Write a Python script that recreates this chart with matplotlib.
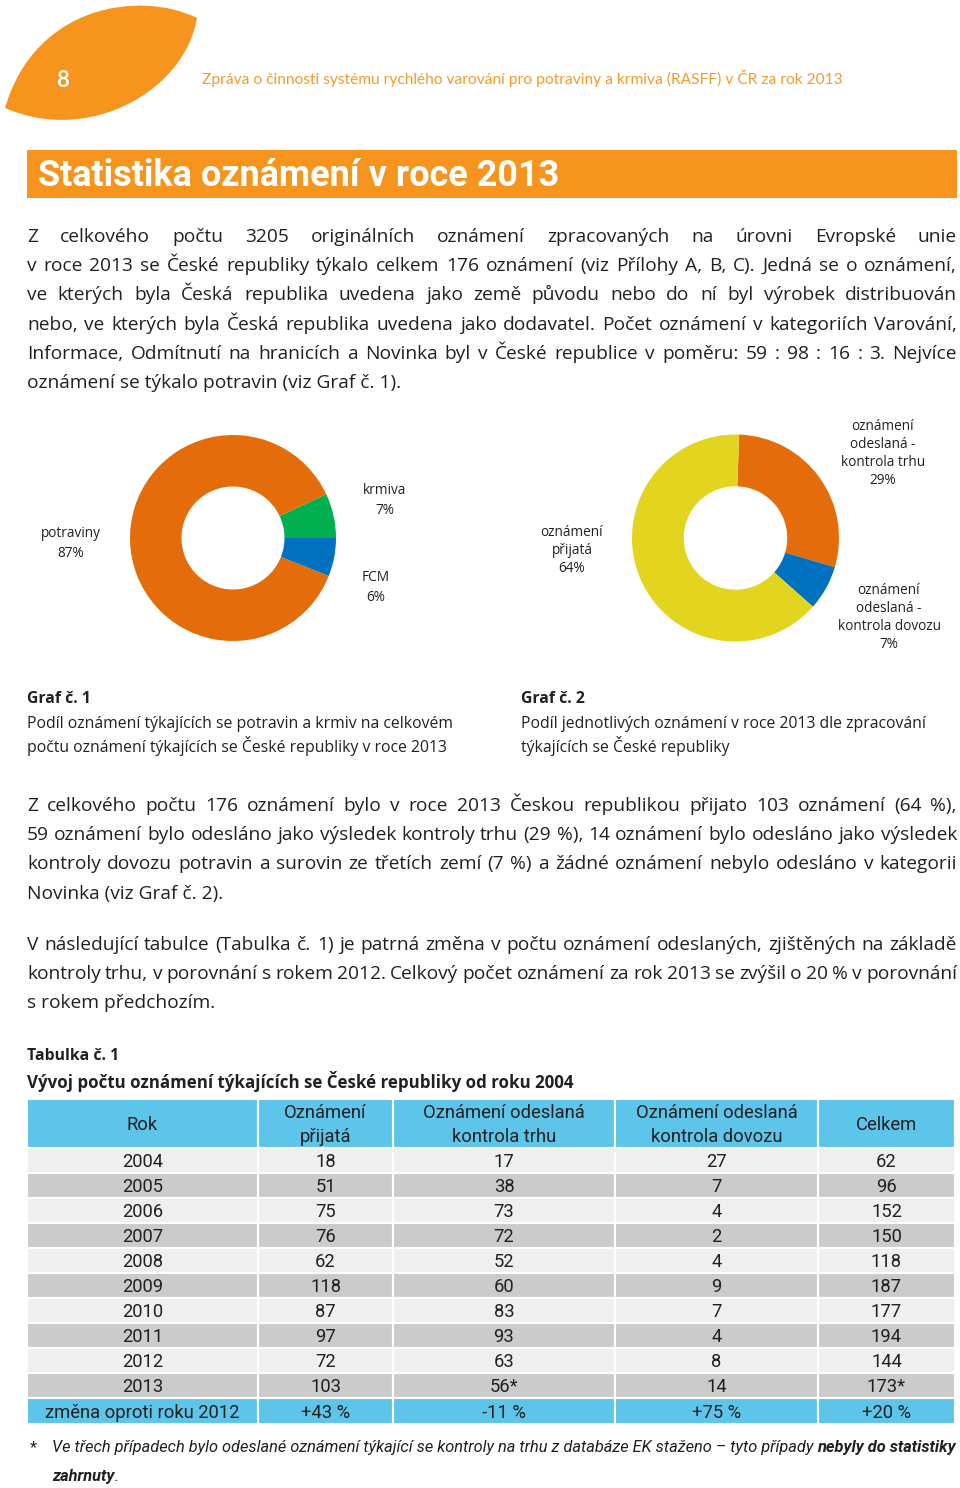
# -*- coding: utf-8 -*-
"""
Strana 8 - statistika oznameni RASFF 2013 (dva prstence + tabulka)
"""
import matplotlib
matplotlib.use('Agg')
import matplotlib.pyplot as plt
from matplotlib.path import Path
from matplotlib.patches import PathPatch, Rectangle

W, H = 960, 1488
ORANGE = '#f7941d'
INK = '#231f20'
BODY = 'Open Sans'
NARROW = 'Roboto'
X0, X1 = 27, 957

# --- data ---
graf1_labels = ['krmiva', 'potraviny', 'FCM']
graf1_values = [7, 87, 6]
graf1_colors = ['#00b050', '#e46c0a', '#0070c0']

graf2_labels = ['oznámení\nodeslaná -\nkontrola trhu', 'oznámení\nodeslaná -\nkontrola dovozu', 'oznámení\npřijatá']
graf2_values = [29, 7, 64]
graf2_colors = ['#e46c0a', '#0070c0', '#e3d420']

table_header = ['Rok', 'Oznámení\npřijatá', 'Oznámení odeslaná\nkontrola trhu',
                'Oznámení odeslaná\nkontrola dovozu', 'Celkem']
years = [2004, 2005, 2006, 2007, 2008, 2009, 2010, 2011, 2012, 2013]
prijata = [18, 51, 75, 76, 62, 118, 87, 97, 72, 103]
trhu = [17, 38, 73, 72, 52, 60, 83, 93, 63, 56]
dovozu = [27, 7, 4, 2, 4, 9, 7, 4, 8, 14]
celkem = [62, 96, 152, 150, 118, 187, 177, 194, 144, 173]
starred = {(2013, 2), (2013, 4)}   # (rok, sloupec) s hvezdickou
change_label = 'změna oproti roku 2012'
change = ['+43 %', '-11 %', '+75 %', '+20 %']

para1 = [
    'Z celkového počtu 3205 originálních oznámení zpracovaných na úrovni Evropské unie',
    'v roce 2013 se České republiky týkalo celkem 176 oznámení (viz Přílohy A, B, C). Jedná se o oznámení,',
    've kterých byla Česká republika uvedena jako země původu nebo do ní byl výrobek distribuován',
    'nebo, ve kterých byla Česká republika uvedena jako dodavatel. Počet oznámení v kategoriích Varování,',
    'Informace, Odmítnutí na hranicích a Novinka byl v České republice v poměru: 59 : 98 : 16 : 3. Nejvíce',
    'oznámení se týkalo potravin (viz Graf č. 1).',
]
para2 = [
    'Z celkového počtu 176 oznámení bylo v roce 2013 Českou republikou přijato 103 oznámení (64 %),',
    '59 oznámení bylo odesláno jako výsledek kontroly trhu (29 %), 14 oznámení bylo odesláno jako výsledek',
    'kontroly dovozu potravin a surovin ze třetích zemí (7 %) a žádné oznámení nebylo odesláno v kategorii',
    'Novinka (viz Graf č. 2).',
]
para3 = [
    'V následující tabulce (Tabulka č. 1) je patrná změna v počtu oznámení odeslaných, zjištěných na základě',
    'kontroly trhu, v porovnání s rokem 2012. Celkový počet oznámení za rok 2013 se zvýšil o 20 % v porovnání',
    's rokem předchozím.',
]
caption1 = ['Podíl oznámení týkajících se potravin a krmiv na celkovém',
            'počtu oznámení týkajících se České republiky v roce 2013']
caption2 = ['Podíl jednotlivých oznámení v roce 2013 dle zpracování',
            'týkajících se České republiky']
footnote = 'Ve třech případech bylo odeslané oznámení týkající se kontroly na trhu z databáze EK staženo – tyto případy'


fig = plt.figure(figsize=(W / 100, H / 100), dpi=100)
ax = fig.add_axes([0, 0, 1, 1])
ax.set_xlim(0, W)
ax.set_ylim(H, 0)
ax.axis('off')
r = fig.canvas.get_renderer()


def fit(s, width, **kw):
    """font size so that s is width px wide"""
    t = ax.text(0, 0, s, fontsize=10, **kw)
    w = t.get_window_extent(renderer=r).width
    t.remove()
    return 10 * width / w


def put(x, yc, s, size, color=INK, **kw):
    # yc = visual middle of the line
    return ax.text(x, yc + 0.36 * size * 100 / 72, s, fontsize=size, va='baseline',
                   color=color, **kw)


def paragraph(lines, y0, size, step=29.2):
    for i, line in enumerate(lines):
        y = y0 + i * step
        if i == len(lines) - 1:
            put(X0, y, line, size, family=BODY)
            continue
        words = [put(0, y, w, size, family=BODY) for w in line.split()]
        widths = [t.get_window_extent(renderer=r).width for t in words]
        gap = (X1 - X0 - sum(widths)) / (len(words) - 1)
        x = X0
        for t, w in zip(words, widths):
            t.set_x(x)
            x += w + gap


# --- hlavicka ---
leaf = Path([(5, 108), (35, 5), (140, -10), (197, 18),
             (185, 90), (90, 145), (5, 108), (5, 108)],
            [Path.MOVETO, Path.CURVE4, Path.CURVE4, Path.CURVE4,
             Path.CURVE4, Path.CURVE4, Path.CURVE4, Path.CLOSEPOLY])
ax.add_patch(PathPatch(leaf, fc=ORANGE, ec='none'))
put(63, 79, '8', 16, color='white', family='Lato', weight='bold', ha='center')
head = 'Zpráva o činnosti systému rychlého varování pro potraviny a krmiva (RASFF) v ČR za rok 2013'
put(202, 78, head, fit(head, 638, family='Lato'), color='#f29b2b', family='Lato')

ax.add_patch(Rectangle((27, 150), 930, 48, fc=ORANGE, ec='none'))
title = 'Statistika oznámení v roce 2013'
put(38, 173, title, fit(title, 522, family=NARROW, weight='bold'), color='white',
    family=NARROW, weight='bold')

# --- text ---
body_size = fit(para1[-1], 375, family=BODY)
paragraph(para1, 235, body_size)
paragraph(para2, 804, body_size)
paragraph(para3, 943, body_size)

# --- grafy ---
small = fit(caption1[0], 423, family=BODY)


def donut(cx, cy, rad, values, colors, start, ccw):
    dax = fig.add_axes([(cx - rad) / W, 1 - (cy + rad) / H, 2 * rad / W, 2 * rad / H])
    dax.pie(values, colors=colors, startangle=start, counterclock=ccw, radius=1,
            wedgeprops=dict(width=0.5, linewidth=0))
    dax.set_xlim(-1, 1)
    dax.set_ylim(-1, 1)
    dax.axis('off')


donut(233, 538, 103, graf1_values, graf1_colors, 0, True)
donut(735.5, 538, 103.5, graf2_values, graf2_colors, 88, False)

lab = fit('kontrola dovozu', 103, family=BODY)
label_pos1 = [(385, 489), (71, 532), (376, 576)]
for (x, y), name, v in zip(label_pos1, graf1_labels, graf1_values):
    for k, s in enumerate((name + '\n%d%%' % v).split('\n')):
        put(x, y + k * 20, s, lab, family=BODY, ha='center')
label_pos2 = [(883, 425), (889, 589), (572, 531)]
for (x, y), name, v in zip(label_pos2, graf2_labels, graf2_values):
    for k, s in enumerate((name + '\n%d%%' % v).split('\n')):
        put(x, y + k * 18, s, lab, family=BODY, ha='center')

for x, n, cap in ((27, 1, caption1), (521, 2, caption2)):
    put(x, 697, 'Graf č. %d' % n, small, family=BODY, weight='bold')
    for k, s in enumerate(cap):
        put(x, 722 + k * 24, s, small, family=BODY)

# --- tabulka ---
put(27, 1054, 'Tabulka č. 1', small, family=BODY, weight='bold')
tab_title = 'Vývoj počtu oznámení týkajících se České republiky od roku 2004'
put(27, 1082, tab_title, fit(tab_title, 548, family=BODY, weight='bold'),
    family=BODY, weight='bold')

col_edges = [27, 258, 393, 615, 818, 955]
BLUE = '#5ec5ea'
tsize = fit(change_label, 194, family=NARROW)
head_top, head_h, row_h = 1099, 49, 25
for c in range(5):
    x, w = col_edges[c], col_edges[c + 1] - col_edges[c]
    ax.add_patch(Rectangle((x, head_top), w, head_h, fc=BLUE, ec='white', lw=1.5))
    lines = table_header[c].split('\n')
    for k, s in enumerate(lines):
        yc = head_top + head_h / 2 + (k - (len(lines) - 1) / 2) * 24
        put(x + w / 2, yc, s, tsize, family=NARROW, ha='center')

columns = [years, prijata, trhu, dovozu, celkem]
for i, yr in enumerate(years):
    top = head_top + head_h + i * row_h
    fc = '#efefef' if i % 2 == 0 else '#cbcbcb'
    for c in range(5):
        x, w = col_edges[c], col_edges[c + 1] - col_edges[c]
        ax.add_patch(Rectangle((x, top), w, row_h, fc=fc, ec='white', lw=1.5))
        s = str(columns[c][i]) + ('*' if (yr, c) in starred else '')
        put(x + w / 2, top + row_h / 2, s, tsize, family=NARROW, ha='center')

top = head_top + head_h + len(years) * row_h
for c, s in enumerate([change_label] + change):
    x, w = col_edges[c], col_edges[c + 1] - col_edges[c]
    ax.add_patch(Rectangle((x, top), w, row_h + 1, fc=BLUE, ec='white', lw=1.5))
    put(x + w / 2, top + row_h / 2 + 1, s, tsize, family=NARROW, ha='center')

# --- poznamka ---
fsize = fit(footnote, 762, family=NARROW, style='italic')
put(30, 1446, '*', fsize, family=NARROW)
t = put(52, 1446, footnote + ' ', fsize, family=NARROW, style='italic')
xb = 52 + t.get_window_extent(renderer=r).width
put(xb, 1446, 'nebyly do statistiky', fsize, family=NARROW, style='italic', weight='bold')
t = put(52, 1475, 'zahrnuty', fsize, family=NARROW, style='italic', weight='bold')
put(52 + t.get_window_extent(renderer=r).width, 1475, '.', fsize, family=NARROW, style='italic')

fig.savefig('out.png', dpi=100)
